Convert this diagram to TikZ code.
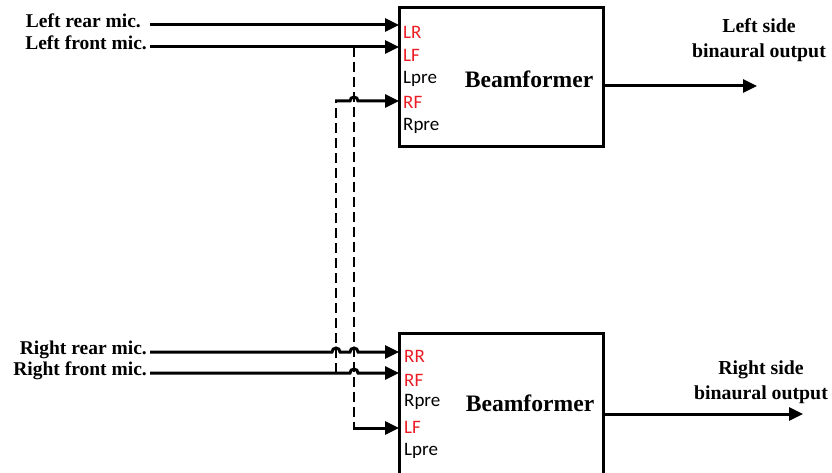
\documentclass[tikz,border=0pt]{standalone}
\usepackage{fontspec}
\setmainfont{Liberation Serif}
\newfontfamily\portfont{Carlito}
\usetikzlibrary{arrows.meta}
\definecolor{portred}{RGB}{236,28,36}

\begin{document}
\begin{tikzpicture}[x=1pt,y=-1pt,
  sig/.style={line width=3pt,-{Triangle[length=14pt,width=13pt]}},
  tap/.style={line width=2.8pt,dash pattern=on 10pt off 5pt},
  block/.style={draw,line width=3pt,minimum width=204pt,inner sep=0pt},
  miclabel/.style={font=\bfseries\fontsize{19.5}{22}\selectfont,inner sep=0pt,anchor=mid east},
  outlabel/.style={font=\bfseries\fontsize{19.8}{25}\selectfont,inner sep=0pt,align=center},
  bftext/.style={font=\bfseries\fontsize{23.6}{26}\selectfont,inner sep=0pt},
  port/.style={font=\portfont\fontsize{19}{20}\selectfont,inner sep=0pt,anchor=west},
  live/.style={port,text=portred}]

\useasboundingbox (0,0) rectangle (832,473);

% processing blocks
\node[block,minimum height=139pt] (bfL) at (501,77.5) {};
\node[block,minimum height=143pt] (bfR) at (501,404.5) {};
\node[bftext] (bfLt) at (529,79) {Beamformer};
\node[bftext] (bfRt) at (530,403) {Beamformer};

% input port names
\node[live] (LRt)   at (403,32)  {LR};
\node[live] (LFt)   at (403,55)  {LF};
\node[port] (Lpret) at (403,79)  {Lpre};
\node[live] (RFt)   at (403,102) {RF};
\node[port] (Rpret) at (403,126) {Rpre};

\node[live] (RRb)   at (404,356) {RR};
\node[live] (RFb)   at (404,380) {RF};
\node[port] (Rpreb) at (404,402) {Rpre};
\node[live] (LFb)   at (404,427) {LF};
\node[port] (Lpreb) at (404,451) {Lpre};

% microphone names
\node[miclabel] (lrear)  at (141,25)  {Left rear mic.};
\node[miclabel] (lfront) at (147,47)  {Left front mic.};
\node[miclabel] (rrear)  at (147,352) {Right rear mic.};
\node[miclabel] (rfront) at (147,373) {Right front mic.};

% outputs
\node[outlabel] (outLt) at (759,40)  {Left side\\binaural output};
\node[outlabel] (outRt) at (761,382) {Right side\\binaural output};

% port and junction points
\coordinate (pLR)  at (399,25);
\coordinate (pLF)  at (399,47);
\coordinate (pRFt) at (399,101);
\coordinate (pRR)  at (399,352);
\coordinate (pRFb) at (399,373);
\coordinate (pLFb) at (399,428);
\coordinate (jL)   at (354,47);
\coordinate (jR)   at (336,373);
\coordinate (oL)   at (757,86);
\coordinate (oR)   at (803,414);

% left microphones into the left beamformer
\draw[sig] ([xshift=9pt]lrear.mid east) -- (pLR);
\draw[sig] ([xshift=3pt]lfront.mid east) -- (pLF);

% right microphones into the right beamformer, hopping over the cross feeds
\draw[sig] ([xshift=3pt]rrear.mid east) -- (332,352)
  arc[start angle=180,end angle=0,radius=4pt] -- (350,352)
  arc[start angle=180,end angle=0,radius=4pt] -- (pRR);
\draw[sig] ([xshift=3pt]rfront.mid east) -- (350,373)
  arc[start angle=180,end angle=0,radius=4pt] -- (pRFb);

% cross feeds between the two sides
\draw[tap] (jL) -- (354,428);
\draw[sig] (353,428) -- (pLFb);
\draw[tap] (jR) -- (336,101);
\draw[sig] (335,101) -- (350,101)
  arc[start angle=180,end angle=0,radius=4pt] -- (pRFt);

% binaural outputs
\draw[sig] (bfL.east |- oL) -- (oL);
\draw[sig] (bfR.east |- oR) -- (oR);
\end{tikzpicture}
\end{document}
